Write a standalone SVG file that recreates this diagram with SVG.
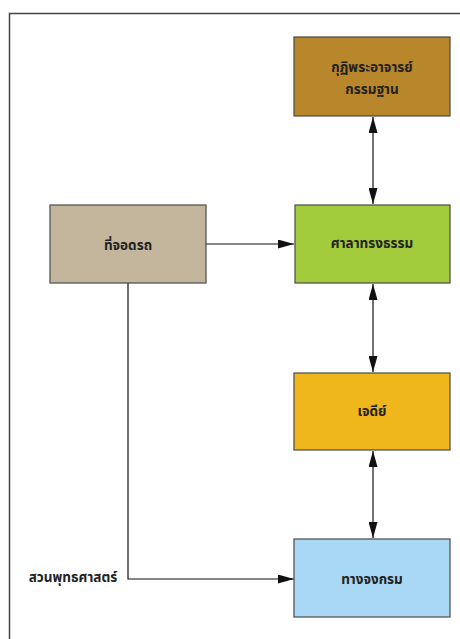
<svg xmlns="http://www.w3.org/2000/svg" width="460" height="639" viewBox="0 0 460 639">
<defs>
<style>
.box{stroke:#4a4a4a;stroke-width:1.2}
.t{font-family:"Noto Sans Thai","Noto Sans","DejaVu Sans",sans-serif;font-size:13.5px;fill:#222;text-anchor:middle;font-weight:bold}
.c{stroke:#111;stroke-width:1.2;fill:none}
</style>
<marker id="av" viewBox="0 0 10 10" refX="10" refY="5" markerWidth="16" markerHeight="9" orient="auto-start-reverse" markerUnits="userSpaceOnUse" preserveAspectRatio="none">
<path d="M0,0 L10,5 L0,10 z" fill="#111"/>
</marker>
</defs>
<rect width="460" height="639" fill="#fff"/>
<path d="M9.5,639 L9.5,13.5 L460,13.5" stroke="#444" stroke-width="1.5" fill="none"/>
<g id="connectors">
<line class="c" x1="373" y1="117" x2="373" y2="204" marker-start="url(#av)" marker-end="url(#av)"/>
<line class="c" x1="373" y1="284" x2="373" y2="372" marker-start="url(#av)" marker-end="url(#av)"/>
<line class="c" x1="373" y1="451" x2="373" y2="538" marker-start="url(#av)" marker-end="url(#av)"/>
<line class="c" x1="206" y1="244" x2="294" y2="244" marker-end="url(#av)"/>
<path class="c" d="M128,283 L128,579 L294,579" marker-end="url(#av)"/>
</g>
<g id="kuti">
<rect class="box" x="294" y="37" width="156" height="79" fill="#b8862b"/>
<text class="t" x="372" y="72">กุฏิพระอาจารย์</text>
<text class="t" x="372" y="94">กรรมฐาน</text>
</g>
<g id="parking">
<rect class="box" x="50" y="205" width="156" height="78" fill="#c4b69c"/>
<text class="t" x="128" y="250">ที่จอดรถ</text>
</g>
<g id="sala">
<rect class="box" x="295" y="205" width="155" height="78" fill="#a3cc3c"/>
<text class="t" x="372" y="248">ศาลาทรงธรรม</text>
</g>
<g id="chedi">
<rect class="box" x="294" y="373" width="156" height="77" fill="#f0b71c"/>
<text class="t" x="372" y="416">เจดีย์</text>
</g>
<g id="walk">
<rect class="box" x="294" y="539" width="156" height="78" fill="#a9d8f4"/>
<text class="t" x="372" y="584">ทางจงกรม</text>
</g>
<g id="garden-label">
<text class="t" x="73" y="582">สวนพุทธศาสตร์</text>
</g>
</svg>
